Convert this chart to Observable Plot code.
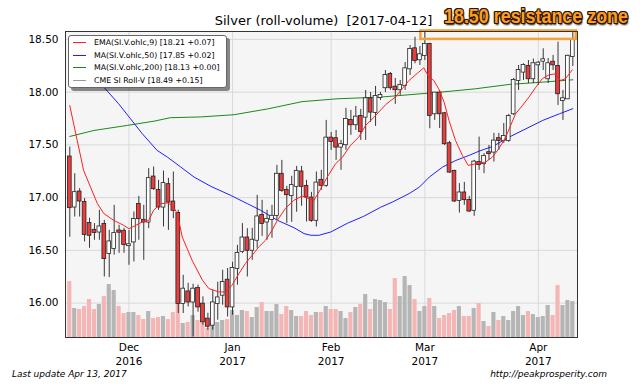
<!DOCTYPE html>
<html><head><meta charset="utf-8">
<script src="https://cdn.jsdelivr.net/npm/d3@7"></script>
<script src="https://cdn.jsdelivr.net/npm/@observablehq/plot@0.6"></script>
<style>
body{margin:0;background:#fff;}
#wrap{position:relative;width:640px;height:384px;overflow:hidden;font-family:"DejaVu Sans",sans-serif;background:#fff;}
.layer{position:absolute;left:0;top:0;}
#title{position:absolute;left:0;width:647px;top:13px;text-align:center;font-size:13px;color:#000;white-space:pre;}
#note{position:absolute;left:444px;top:5px;font-family:"Liberation Sans",sans-serif;font-weight:bold;font-size:20px;color:#ff9c22;white-space:pre;transform-origin:0 0;
 text-shadow:-1px -1px 0 #2b1600,1px -1px 0 #2b1600,-1px 1px 0 #2b1600,1px 1px 0 #2b1600,0 -1px 0 #2b1600,0 1px 0 #2b1600,-1px 0 0 #2b1600,1px 0 0 #2b1600,1px 2px 2px #000;}
#legend{position:absolute;left:68px;top:35px;width:157px;height:51px;background:#fff;border:1px solid #666;border-radius:3px;box-shadow:3px 3px 0 rgba(0,0,0,0.45);font-size:7.8px;color:#000;}
.row{position:absolute;left:0;height:12px;white-space:pre;}
.sw{position:absolute;left:4px;top:5px;width:13px;height:0;border-top:1.2px solid;}
.lt{position:absolute;left:25px;top:0;line-height:12px;}
.foot{position:absolute;top:369px;font-size:9px;font-style:italic;color:#000;white-space:pre;}
</style></head><body><div id="wrap"></div>
<script>
// ---- data (trading-day index 0 = 2016-11-14 ... 102 = 2017-04-12) ----
const opens = [17.385,16.911,17.053,16.953,16.754,16.690,16.674,16.745,16.470,16.517,
16.684,16.681,16.545,16.580,16.934,16.785,16.769,17.195,17.069,16.911,
17.123,16.958,16.849,15.996,16.106,16.011,16.138,15.990,15.848,15.791,
15.996,16.075,16.217,15.964,16.328,16.491,16.617,16.501,16.596,16.830,
16.769,16.792,16.832,17.221,17.069,17.019,17.107,17.243,17.107,16.996,
16.785,17.164,17.117,17.564,17.559,17.479,17.502,17.732,17.691,17.770,
17.763,17.937,17.808,17.950,18.042,18.168,18.047,18.023,18.063,18.221,
18.411,18.307,18.348,18.452,17.795,17.991,17.795,17.511,17.249,16.974,
17.044,16.974,16.880,17.332,17.322,17.426,17.432,17.559,17.543,17.543,
17.795,18.111,18.190,18.243,18.127,18.259,18.294,18.127,18.284,18.243,
17.921,17.937,18.338];
const highs = [17.479,17.227,17.085,16.991,16.804,16.754,16.880,16.785,16.690,16.927,
16.738,16.709,16.690,16.864,17.012,16.927,17.275,17.290,17.164,17.252,
17.183,17.243,16.880,16.264,16.188,16.179,16.170,16.059,15.904,16.122,
16.198,16.312,16.328,16.387,16.548,16.754,16.706,16.709,17.022,16.974,
16.880,16.927,17.306,17.353,17.107,17.202,17.296,17.296,17.164,17.050,
17.243,17.259,17.732,17.618,17.637,17.543,17.846,17.827,17.865,17.836,
18.016,17.997,18.054,17.997,18.205,18.186,18.130,18.111,18.281,18.442,
18.521,18.433,18.568,18.464,17.997,18.016,17.808,17.533,17.259,17.133,
17.145,17.012,17.353,17.574,17.417,17.495,17.609,17.609,17.703,17.789,
18.130,18.253,18.269,18.300,18.314,18.291,18.411,18.319,18.348,18.474,
18.016,18.350,18.568];
const lows = [16.624,16.816,16.816,16.580,16.520,16.596,16.596,16.248,16.242,16.454,
16.472,16.472,16.359,16.390,16.596,16.406,16.706,17.069,16.880,16.722,
16.690,16.801,15.901,15.901,15.964,15.680,15.914,15.791,15.743,15.743,
15.838,15.980,15.869,15.885,16.170,16.470,16.248,16.406,16.520,16.633,
16.596,16.615,16.785,17.050,16.754,16.766,16.861,16.918,16.769,16.766,
16.722,17.069,17.098,17.448,17.353,17.259,17.448,17.590,17.637,17.543,
17.543,17.713,17.675,17.921,17.997,18.016,17.884,17.969,18.016,18.158,
18.269,18.253,18.300,17.653,17.732,17.656,17.495,17.230,16.955,16.854,
16.927,16.861,16.823,17.259,17.227,17.353,17.337,17.448,17.514,17.524,
17.779,18.016,18.111,18.082,18.082,18.063,18.205,18.082,18.205,17.874,
17.732,17.931,18.243];
const closes = [16.905,17.047,16.968,16.650,16.643,16.669,16.722,16.422,16.580,16.659,
16.672,16.555,16.553,16.792,16.801,16.769,17.180,17.085,16.911,17.133,
16.958,16.880,15.996,16.132,16.011,16.132,15.964,15.822,15.781,16.002,
16.049,16.195,15.964,16.328,16.470,16.617,16.501,16.596,16.817,16.754,
16.794,16.823,17.221,17.069,17.028,17.114,17.249,17.107,17.006,16.785,
17.138,17.117,17.564,17.533,17.479,17.502,17.741,17.691,17.763,17.628,
17.937,17.811,17.959,17.969,18.158,18.042,18.023,18.063,18.221,18.404,
18.300,18.354,18.452,17.779,17.991,17.795,17.511,17.242,16.968,17.044,
16.981,16.873,17.337,17.313,17.391,17.417,17.536,17.543,17.580,17.770,
18.111,18.205,18.253,18.127,18.269,18.275,18.307,18.269,18.259,17.985,
17.937,18.340,18.490];
const volumes = [56,29,28,31,38,28,33,41,53,47,
31,24,25,25,22,18,26,19,20,21,
18,25,33,14,15,22,17,14,9,14,
15,17,18,27,22,27,26,20,30,35,
26,26,33,23,31,27,21,21,26,22,
25,25,31,28,28,26,19,25,30,33,
43,28,38,37,35,28,59,41,61,52,
38,26,31,39,31,19,22,24,27,31,
21,21,29,34,16,11,25,17,21,17,
26,31,22,26,23,20,21,32,22,52,
32,37,36];
const emaLine = [[0,17.872],[1.5,17.543],[2.8,17.259],[4.2,17.100],[5.6,16.943],[6.9,16.849],[8.9,16.785],[10.9,16.738],[12,16.706],[13,16.728],[14.7,16.769],[16,16.785],[17,16.880],[18.4,16.943],[19.8,16.949],[20.8,16.927],[21.8,16.849],[22.8,16.627],[24.8,16.406],[26.9,16.217],[28.2,16.138],[30.2,16.106],[31.6,16.106],[32.9,16.170],[34.3,16.280],[35.6,16.375],[37,16.454],[38.3,16.532],[39.7,16.596],[41,16.690],[42.1,16.785],[43.7,16.896],[45.4,16.974],[47.1,17.015],[48.5,16.990],[49.5,16.974],[50.9,17.085],[52.2,17.195],[53.9,17.322],[55.3,17.384],[56.9,17.495],[58.6,17.574],[60,17.685],[61.7,17.763],[64.1,17.884],[66,17.953],[67.4,18.032],[68.8,18.111],[70.5,18.180],[71.8,18.231],[72.8,18.142],[73.8,18.111],[74.8,18.032],[75.9,17.905],[76.9,17.732],[78.2,17.543],[79.6,17.401],[80.8,17.306],[81.8,17.315],[82.8,17.328],[84.3,17.337],[85.7,17.384],[87,17.464],[88.4,17.574],[89.4,17.685],[90.4,17.795],[91.8,17.874],[93.1,17.953],[94.5,18.047],[95.8,18.127],[97.2,18.165],[98.5,18.174],[99.5,18.111],[100.5,18.127],[101.9,18.212]];
const ma50Line = [[0,18.395],[3.4,18.224],[6.9,18.047],[9.9,17.890],[12.3,17.748],[14.7,17.606],[17.7,17.448],[19.8,17.384],[22.5,17.290],[25.2,17.195],[28.6,17.107],[32.6,17.022],[36,16.943],[38.7,16.880],[42.1,16.785],[45.5,16.714],[47.5,16.659],[48.9,16.643],[50.5,16.643],[52.9,16.674],[56.3,16.757],[59.6,16.823],[63,16.908],[65.4,16.958],[68.8,17.038],[70.9,17.100],[72.9,17.195],[75.6,17.290],[78.3,17.353],[81,17.401],[83,17.441],[85.8,17.486],[89.1,17.574],[92.5,17.653],[95.9,17.732],[99.3,17.795],[102,17.843]];
const ma200Line = [[0,17.580],[4.9,17.637],[11.7,17.685],[17.1,17.725],[20.4,17.758],[26.5,17.765],[33.3,17.786],[40.1,17.841],[47.1,17.910],[54.2,17.937],[63,17.953],[75.2,18.000],[82.3,18.032],[89.1,18.073],[95.9,18.095],[102,18.117]];
const monthTickIdx = [12,33,53,72,95];
const monthLabels = ["Dec\n2016","Jan\n2017","Feb\n2017","Mar\n2017","Apr\n2017"];
const priceTicks = [16.0,16.5,17.0,17.5,18.0,18.5];
const resistanceZone = [{x1:71.2,x2:102.7,y1:18.50,y2:18.58}];
const legendLabels = ["EMA(SI.V.ohlc,9) [18.21 +0.07]","MA(SI.V.ohlc,50) [17.85 +0.02]","MA(SI.V.ohlc,200) [18.13 +0.00]","CME SI Roll-V [18.49 +0.15]"];
const legendColors = ["#ff2020","#2020ff","#1a8a1a","#999999"];
const titleText = "Silver (roll-volume)  [2017-04-12]";
const noteText = "18.50 resistance zone";
const footLeft = "Last update Apr 13, 2017";
const footRight = "http://peakprosperity.com";

// ---- build ----
const candles = opens.map((o,i)=>({i,o,h:highs[i],l:lows[i],c:closes[i],v:volumes[i],down:closes[i]<o}));
const base = {width:640,height:384,marginLeft:65,marginRight:63,marginTop:31,marginBottom:47,
  style:{background:"transparent",fontFamily:"DejaVu Sans",color:"#000",overflow:"visible"}};
const xDom = [-0.87,102.95], yDom = [15.674,18.575];
const wrap = document.getElementById("wrap");

const layerA = Plot.plot({...base,
  x:{domain:xDom}, y:{domain:yDom},
  marks:[
    Plot.frame({fill:"#f5f5f5",stroke:"none"}),
    Plot.ruleY(priceTicks,{stroke:"#d9d9d9",strokeWidth:1}),
    Plot.ruleX(monthTickIdx,{stroke:"#d9d9d9",strokeWidth:1}),
    Plot.axisY(priceTicks,{tickFormat:d=>d.toFixed(2),tickSize:0,tickPadding:7,label:null,fontSize:10.5}),
    Plot.axisX(monthTickIdx,{tickFormat:d=>monthLabels[monthTickIdx.indexOf(d)],tickSize:0,tickPadding:4,label:null,fontSize:10.5,lineHeight:1.3})
  ]});
const layerB = Plot.plot({...base,
  x:{domain:xDom,axis:null}, y:{domain:[0,306.3],axis:null}, color:{type:"identity"},
  marks:[
    Plot.rect(candles,{x1:d=>d.i-0.42,x2:d=>d.i+0.42,y1:0,y2:"v",fill:d=>d.down?"#f5b5b5":"#b5b5b5"})
  ]});
const layerC = Plot.plot({...base,
  x:{domain:xDom,axis:null}, y:{domain:yDom,axis:null}, color:{type:"identity"},
  marks:[
    Plot.line(ma200Line,{x:d=>d[0],y:d=>d[1],stroke:"#1a8a1a",strokeWidth:1}),
    Plot.line(ma50Line,{x:d=>d[0],y:d=>d[1],stroke:"#2020ff",strokeWidth:1}),
    Plot.ruleX(candles,{x:"i",y1:"l",y2:"h",stroke:"#222",strokeWidth:0.9}),
    Plot.rect(candles,{x1:d=>d.i-0.38,x2:d=>d.i+0.38,y1:"o",y2:"c",fill:d=>d.down?"#ee3b3b":"#ffffff",stroke:"#222",strokeWidth:0.8,insetTop:-0.5,insetBottom:-0.5}),
    Plot.line(emaLine,{x:d=>d[0],y:d=>d[1],stroke:"#ff2020",strokeWidth:1}),
    Plot.rect(resistanceZone,{x1:"x1",x2:"x2",y1:"y1",y2:"y2",fill:"none",stroke:"#f5a038",strokeWidth:2.5}),
    Plot.frame({stroke:"#333",strokeWidth:1})
  ]});
for (const l of [layerA,layerB,layerC]) { l.classList.add("layer"); wrap.appendChild(l); }

const t = document.createElement("div"); t.id="title"; t.textContent=titleText; wrap.appendChild(t);
const n = document.createElement("div"); n.id="note"; n.textContent=noteText; wrap.appendChild(n);
const nw = n.getBoundingClientRect().width;
if (nw > 0) n.style.transform = "scaleX(" + (184 / nw) + ")";
const lg = document.createElement("div"); lg.id="legend";
legendLabels.forEach((lab,k)=>{
  const r=document.createElement("div"); r.className="row"; r.style.top=(1+k*12.5)+"px";
  const s=document.createElement("div"); s.className="sw"; s.style.borderTopColor=legendColors[k]; r.appendChild(s);
  const tx=document.createElement("div"); tx.className="lt"; tx.textContent=lab; r.appendChild(tx);
  lg.appendChild(r);
});
wrap.appendChild(lg);
const fl=document.createElement("div"); fl.className="foot"; fl.style.left="12px"; fl.textContent=footLeft; wrap.appendChild(fl);
const fr=document.createElement("div"); fr.className="foot"; fr.style.right="33px"; fr.textContent=footRight; wrap.appendChild(fr);
</script></body></html>
